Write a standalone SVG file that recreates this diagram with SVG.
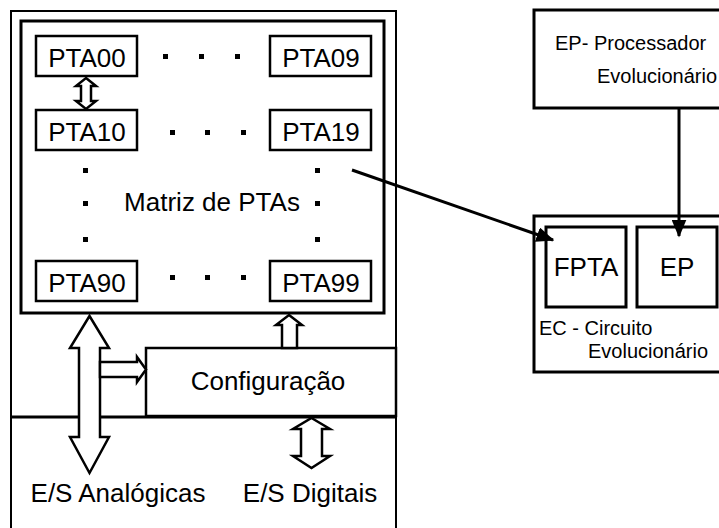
<svg xmlns="http://www.w3.org/2000/svg" width="719" height="528" viewBox="0 0 719 528">
  <style>
    .box { fill: #fff; stroke: #000; stroke-width: 2.5; }
    .thin { fill: none; stroke: #000; stroke-width: 2; }
    .thick { fill: none; stroke: #000; stroke-width: 3; }
    .blk { fill: #fff; stroke: #000; stroke-width: 2.5; stroke-linejoin: miter; }
    .dot { fill: #000; }
    .t26 { font-family: "Liberation Sans", Arial, sans-serif; font-size: 26px; fill: #000; }
    .t20 { font-family: "Liberation Sans", Arial, sans-serif; font-size: 20px; fill: #000; }
    .mid { text-anchor: middle; }
    .wire { fill: none; stroke: #000; stroke-width: 3; }
  </style>
  <defs>
    <marker id="head" markerWidth="6" markerHeight="5" refX="5.5" refY="2.5" orient="auto" markerUnits="strokeWidth">
      <path d="M0,0 L6,2.5 L0,5 Z" fill="#000"/>
    </marker>
  </defs>

  <rect x="0" y="0" width="719" height="528" fill="#fff"/>

  <!-- FPTA chip: outer frame, PTA matrix, configuration block -->
  <g id="chip">
    <rect class="thin" x="11" y="11" width="385" height="540"/>
    <line class="thick" x1="11" y1="417" x2="396" y2="417"/>
  </g>

  <g id="matrix">
    <rect class="thick" x="21" y="21" width="363" height="292"/>
    <text class="t26 mid" x="212" y="211">Matriz de PTAs</text>
    <!-- ellipsis dots -->
    <rect class="dot" x="163" y="54" width="5" height="5"/>
    <rect class="dot" x="199" y="54" width="5" height="5"/>
    <rect class="dot" x="235" y="54" width="5" height="5"/>
    <rect class="dot" x="170" y="130" width="5" height="5"/>
    <rect class="dot" x="205" y="130" width="5" height="5"/>
    <rect class="dot" x="241" y="130" width="5" height="5"/>
    <rect class="dot" x="170" y="275" width="5" height="5"/>
    <rect class="dot" x="205" y="275" width="5" height="5"/>
    <rect class="dot" x="241" y="275" width="5" height="5"/>
    <rect class="dot" x="83" y="168" width="5" height="5"/>
    <rect class="dot" x="83" y="201" width="5" height="5"/>
    <rect class="dot" x="83" y="237" width="5" height="5"/>
    <rect class="dot" x="315" y="168" width="5" height="5"/>
    <rect class="dot" x="315" y="201" width="5" height="5"/>
    <rect class="dot" x="315" y="237" width="5" height="5"/>
  </g>

  <g id="pta00"><rect class="box" x="36" y="36" width="101" height="40"/><text class="t26 mid" x="87" y="67">PTA00</text></g>
  <g id="pta09"><rect class="box" x="270" y="36" width="101" height="40"/><text class="t26 mid" x="321" y="67">PTA09</text></g>
  <g id="pta10"><rect class="box" x="36" y="110" width="101" height="40"/><text class="t26 mid" x="87" y="141">PTA10</text></g>
  <g id="pta19"><rect class="box" x="270" y="110" width="101" height="40"/><text class="t26 mid" x="321" y="141">PTA19</text></g>
  <g id="pta90"><rect class="box" x="36" y="261" width="101" height="40"/><text class="t26 mid" x="87" y="292">PTA90</text></g>
  <g id="pta99"><rect class="box" x="270" y="261" width="101" height="40"/><text class="t26 mid" x="321" y="292">PTA99</text></g>

  <g id="config">
    <rect class="box" x="146" y="348" width="250" height="68"/>
    <text class="t26 mid" x="268" y="390">Configuração</text>
  </g>

  <g id="io-labels">
    <text class="t26 mid" x="118" y="502">E/S Analógicas</text>
    <text class="t26 mid" x="310" y="502">E/S Digitais</text>
  </g>

  <!-- evolutionary processor -->
  <g id="ep-processor">
    <rect class="thick" x="534" y="10" width="200" height="98"/>
    <text class="t20" x="555" y="50">EP- Processador</text>
    <text class="t20" x="597" y="83">Evolucionário</text>
  </g>

  <!-- evolutionary circuit -->
  <g id="ec-circuit">
    <rect class="thick" x="534" y="216" width="200" height="156"/>
    <text class="t20" x="539" y="335">EC - Circuito</text>
    <text class="t20" x="588" y="358">Evolucionário</text>
  </g>
  <g id="ec-fpta"><rect class="thick" x="546" y="227" width="80" height="80"/><text class="t26 mid" x="586" y="276">FPTA</text></g>
  <g id="ec-ep"><rect class="thick" x="637" y="227" width="80" height="80"/><text class="t26 mid" x="677" y="276">EP</text></g>

  <!-- connectors -->
  <g id="connectors">
    <!-- PTA00 <-> PTA10 -->
    <path class="blk" d="M86,78 L96,86 L91,86 L91,101 L96,101 L86,109 L76,101 L81,101 L81,86 L76,86 Z"/>
    <!-- analog I/O bus -->
    <path class="blk" d="M89.5,316 L109,348 L100,348 L100,437 L109,437 L89.5,473 L70,437 L79,437 L79,348 L70,348 Z"/>
    <!-- bus into configuration -->
    <path class="blk" d="M100,362 L137,362 L137,357 L146,369.5 L137,382 L137,377 L100,377 Z"/>
    <!-- configuration into matrix -->
    <path class="blk" d="M289,315 L302,325 L297,325 L297,348 L282,348 L282,325 L276,325 Z"/>
    <!-- digital I/O -->
    <path class="blk" d="M311.5,418 L330,429 L322,429 L322,456 L330,456 L311.5,468 L293,456 L301,456 L301,429 L293,429 Z"/>
    <!-- matrix maps onto FPTA -->
    <line class="wire" x1="352" y1="170" x2="553" y2="240" marker-end="url(#head)"/>
    <!-- processor drives EP -->
    <line class="wire" x1="679" y1="108" x2="679" y2="236" marker-end="url(#head)"/>
  </g>
</svg>
